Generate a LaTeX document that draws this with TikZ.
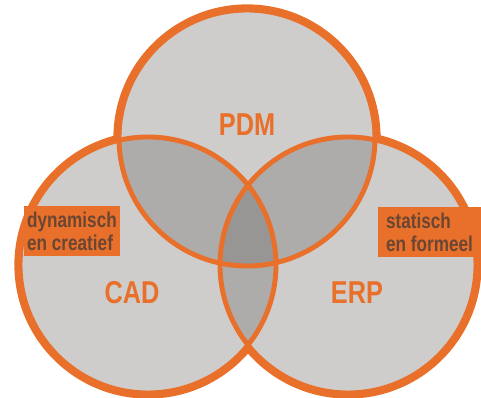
\documentclass[tikz,border=0pt]{standalone}
\usepackage{fontspec}
\setmainfont{Liberation Sans}[FakeStretch=0.8]
\definecolor{vennorange}{HTML}{E8702A}
\definecolor{venngray}{HTML}{CFCDCB}
\definecolor{venntwo}{HTML}{AEACAA}
\definecolor{vennthree}{HTML}{989694}
\definecolor{labeltext}{HTML}{6A4633}

\begin{document}
\begin{tikzpicture}[%
        rim/.style={draw=vennorange, line width=3.2pt},
        seam/.style={draw=vennorange, line width=1.4pt},
        big/.style={text=vennorange, font=\fontsize{9}{9}\selectfont\bfseries},
        tag/.style={fill=vennorange, text=labeltext, align=left,
                        font=\fontsize{6.1}{6.6}\selectfont\bfseries,
                        inner xsep=0.8pt, inner ysep=1.5pt,
                        minimum height=0.42cm}]
    \useasboundingbox (0,0) rectangle (4.81,3.98);
    \coordinate (pdm) at (2.47,2.60);
    \coordinate (cad) at (1.48,1.33);
    \coordinate (erp) at (3.48,1.33);
    \def\r{1.28}
    % outer rim, then faces
    \foreach \c in {pdm,cad,erp}
        \draw[rim] (\c) circle (\r);
    \foreach \c in {pdm,cad,erp}
        \fill[venngray] (\c) circle (\r);
    \foreach \a/\b in {pdm/cad,pdm/erp,cad/erp} {
        \begin{scope}
            \clip (\a) circle (\r);
            \fill[venntwo] (\b) circle (\r);
        \end{scope}
    }
    \begin{scope}
        \clip (pdm) circle (\r);
        \clip (cad) circle (\r);
        \fill[vennthree] (erp) circle (\r);
    \end{scope}
    \foreach \c in {pdm,cad,erp}
        \draw[seam] (\c) circle (\r);
    % labels
    \node[big] (pdmlabel) at (2.47,2.73) {PDM};
    \node[big] (cadlabel) at (1.32,1.05) {CAD};
    \node[big] (erplabel) at (3.57,1.05) {ERP};
    \node[tag, minimum width=0.9cm] (dyn) at (0.72,1.67)
        {dynamisch\\en creatief};
    \node[tag, minimum width=1.03cm] (stat) at (4.295,1.66)
        {statisch\\en formeel};
\end{tikzpicture}
\end{document}
